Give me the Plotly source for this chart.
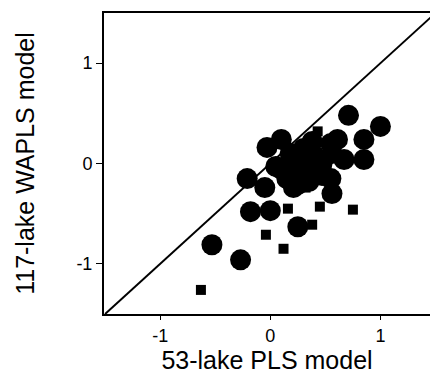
import plotly.graph_objects as go

# 53-lake PLS model (x) vs 117-lake WAPLS model (y)
circle_x = [0.71, 1.00, 0.85, 0.85, 0.61, 0.67, -0.03, 0.10, 0.18, 0.38, 0.47, 0.56,
            0.32, 0.14, 0.05, 0.25, 0.47, -0.21, -0.05, 0.21, 0.56, -0.18, 0.00, 0.25,
            -0.53, -0.27, 0.40, 0.25, 0.25, 0.39, 0.09, 0.43, 0.30, 0.15, 0.35, 0.55,
            0.25, 0.55]
circle_y = [0.48, 0.37, 0.24, 0.04, 0.24, 0.04, 0.16, 0.24, 0.10, 0.22, 0.00, 0.10,
            -0.03, -0.08, -0.03, -0.18, -0.12, -0.15, -0.24, -0.24, -0.30, -0.48, -0.47, -0.63,
            -0.81, -0.96, 0.08, 0.03, -0.01, 0.05, -0.05, -0.10, 0.15, -0.15, -0.18, -0.15,
            -0.21, 0.20]
square_x = [0.43, 0.32, 0.16, 0.45, 0.75, 0.38, -0.04, 0.12, -0.63]
square_y = [0.32, -0.24, -0.45, -0.43, -0.46, -0.61, -0.71, -0.85, -1.26]
line_x = [-1.5, 1.5]
line_y = [-1.5, 1.5]
tick_vals = [-1, 0, 1]
tick_text = ["-1", "0", "1"]

FONT = "Liberation Sans, Arial, sans-serif"

fig = go.Figure()
fig.add_trace(go.Scatter(x=line_x, y=line_y, mode="lines",
                         line=dict(color="black", width=2), hoverinfo="skip"))
fig.add_trace(go.Scatter(x=circle_x, y=circle_y, mode="markers",
                         marker=dict(symbol="circle", size=21, color="black",
                                     line=dict(width=0))))
fig.add_trace(go.Scatter(x=square_x, y=square_y, mode="markers",
                         marker=dict(symbol="square", size=10, color="black",
                                     line=dict(width=0))))

fig.update_layout(
    width=430, height=379,
    margin=dict(l=104, r=0, t=13, b=65),
    paper_bgcolor="white", plot_bgcolor="white",
    showlegend=False,
    font=dict(family=FONT, color="black"),
)
fig.update_xaxes(range=[-1.51, 1.45], showgrid=False, zeroline=False,
                 showline=True, linecolor="black", linewidth=2, mirror=True,
                 ticks="outside", ticklen=4, tickwidth=1, tickcolor="black",
                 tickvals=tick_vals, ticktext=tick_text,
                 tickfont=dict(size=18, family=FONT),
                 title=dict(text="53-lake PLS model", font=dict(size=25, family=FONT), standoff=6))
fig.update_yaxes(range=[-1.5, 1.5], showgrid=False, zeroline=False,
                 showline=True, linecolor="black", linewidth=2, mirror=False,
                 ticks="outside", ticklen=6, tickwidth=1, tickcolor="black",
                 tickvals=tick_vals, ticktext=tick_text,
                 tickfont=dict(size=18, family=FONT),
                 title=dict(text="117-lake WAPLS model", font=dict(size=25, family=FONT), standoff=35))

fig.write_html("out.html")
